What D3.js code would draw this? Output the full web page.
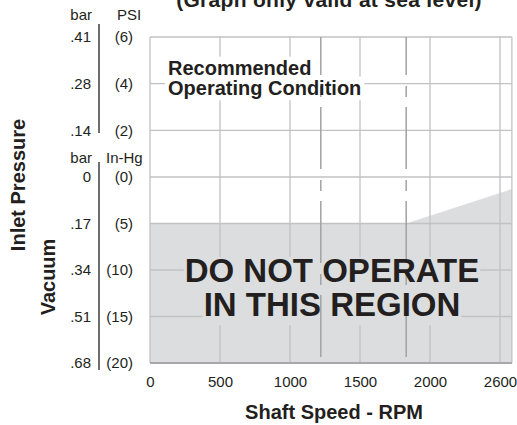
<!DOCTYPE html>
<html>
<head>
<meta charset="utf-8">
<script src="https://cdn.jsdelivr.net/npm/d3@7/dist/d3.min.js"></script>
<style>
  html, body { margin: 0; padding: 0; background: #fff; }
  svg { display: block; font-family: "Liberation Sans", Arial, Helvetica, sans-serif; }
</style>
</head>
<body>
<svg id="chart" width="517" height="425"></svg>
<script>
// Shaft speed axis (RPM)
const rpmTicks = [0, 500, 1000, 1500, 2000, 2500];
const rpmTickLabels = ["0", "500", "1000", "1500", "2000", "2600"];
const rpmMax = 2585;

// Positive inlet pressure (PSI) with bar equivalents
const psiTicks = [6, 4, 2];
const psiBar = [".41", ".28", ".14"];
const psiLabels = ["(6)", "(4)", "(2)"];

// Inlet vacuum (In-Hg) with bar equivalents
const vacTicks = [0, 5, 10, 15, 20];
const vacBar = ["0", ".17", ".34", ".51", ".68"];
const vacLabels = ["(0)", "(5)", "(10)", "(15)", "(20)"];

// Speed limits shown as dashed verticals (RPM)
const limitRpm = [1220, 1830];

// Upper edge of the no-operate region: vacuum (In-Hg) against speed
const boundaryRpm = [0, 1830, 2585];
const boundaryInHg = [5, 5, 1.3];

const ink = "#231f20";
const gridColor = "#c2c2c4";
const shade = "#dcdddf";

const plotLeft = 150, plotTop = 37, plotBottom = 363;
const x = d3.scaleLinear().domain([0, rpmMax]).range([plotLeft, plotLeft + rpmMax * 0.14]);
const plotRight = x(rpmMax);
const yPsi = d3.scaleLinear().domain([0, 6]).range([177, plotTop]);
const yVac = d3.scaleLinear().domain([0, 20]).range([177, plotBottom]);

const svg = d3.select("#chart");
const layerRegion = svg.append("g").attr("class", "region");
const layerGrid = svg.append("g").attr("class", "grid");
const layerMask = svg.append("g").attr("class", "mask");
const layerDash = svg.append("g").attr("class", "limits");
const layerText = svg.append("g").attr("class", "labels");

// No-operate region
const boundary = boundaryRpm.map((r, i) => ({ rpm: r, inHg: boundaryInHg[i] }));
layerRegion.append("path")
  .datum(boundary)
  .attr("fill", shade)
  .attr("d", d3.area().x(d => x(d.rpm)).y0(yVac(20)).y1(d => yVac(d.inHg)));

// Grid: speed verticals and pressure rows
const vx = rpmTicks.concat([rpmMax]).map(d => x(d));
const rowYs = psiTicks.map(d => yPsi(d)).concat(vacTicks.map(d => yVac(d)));
vx.forEach(px => {
  layerGrid.append("line")
    .attr("x1", px).attr("x2", px)
    .attr("y1", plotTop).attr("y2", plotBottom)
    .attr("stroke", gridColor).attr("stroke-width", 1.3);
});
rowYs.forEach(py => {
  layerGrid.append("line")
    .attr("x1", plotLeft).attr("x2", plotRight)
    .attr("y1", py).attr("y2", py)
    .attr("stroke", gridColor).attr("stroke-width", 1.3);
});
layerGrid.append("line")
  .attr("x1", plotLeft).attr("x2", plotRight)
  .attr("y1", yVac(20)).attr("y2", yVac(20))
  .attr("stroke", "#a8a8aa").attr("stroke-width", 2);

// Text blocks with backgrounds that mask the grid
function textBlock(lines, opts) {
  lines.forEach((s, i) => {
    const base = opts.y + i * opts.lh;
    const t = layerText.append("text")
      .attr("x", opts.x).attr("y", base)
      .attr("text-anchor", opts.anchor)
      .attr("font-size", opts.fs).attr("font-weight", "bold")
      .attr("fill", ink).text(s);
    const b = t.node().getBBox();
    layerMask.append("rect")
      .attr("x", b.x - opts.pad).attr("width", b.width + 2 * opts.pad)
      .attr("y", base - opts.up * opts.fs)
      .attr("height", (opts.up + opts.down) * opts.fs)
      .attr("fill", opts.bg);
  });
}

textBlock(["Recommended", "Operating Condition"],
  { x: 168, y: 75, lh: 20, fs: 20, anchor: "start", pad: 3, up: 0.92, down: 0.26, bg: "#fff" });

textBlock(["DO NOT OPERATE", "IN THIS REGION"],
  { x: 332, y: 282, lh: 34, fs: 33, anchor: "middle", pad: 1, up: 0.76, down: 0.28, bg: shade });

// Dashed speed limits
limitRpm.forEach(r => {
  layerDash.append("line")
    .attr("x1", x(r)).attr("x2", x(r))
    .attr("y1", plotTop).attr("y2", 357)
    .attr("stroke", "#a2a2a4").attr("stroke-width", 1.5)
    .attr("stroke-dasharray", "62,11,11,10")
    .attr("stroke-dashoffset", 24);
});

// Bottom axis labels
const xAxis = d3.axisBottom(x)
  .tickValues(rpmTicks)
  .tickFormat((d, i) => rpmTickLabels[i])
  .tickSize(0).tickPadding(0);
const xg = layerText.append("g").attr("transform", `translate(0,${plotBottom})`).call(xAxis);
xg.attr("font-family", null).attr("font-size", null);
xg.select(".domain").remove();
xg.selectAll("text")
  .attr("y", 24).attr("dy", null)
  .attr("font-size", 15).attr("fill", ink);

// Left pressure / vacuum scale
[[24, 133], [162, 370]].forEach(seg => {
  layerText.append("line")
    .attr("x1", 99).attr("x2", 99)
    .attr("y1", seg[0]).attr("y2", seg[1])
    .attr("stroke", ink).attr("stroke-width", 1.3);
});

const lab = layerText.append("g").attr("font-size", 15).attr("fill", ink);
function column(ticks, texts, scale, xPos) {
  lab.append("g").selectAll("text").data(ticks).join("text")
    .attr("x", xPos).attr("y", d => scale(d))
    .attr("dy", "0.36em").attr("text-anchor", "end")
    .text((d, i) => texts[i]);
}
column(psiTicks, psiBar, yPsi, 91);
column(psiTicks, psiLabels, yPsi, 133);
column(vacTicks, vacBar, yVac, 91);
column(vacTicks, vacLabels, yVac, 133);

lab.append("text").attr("x", 92).attr("y", 20).attr("text-anchor", "end").text("bar");
lab.append("text").attr("x", 117).attr("y", 20).text("PSI");
lab.append("text").attr("x", 92).attr("y", 163).attr("text-anchor", "end").text("bar");
lab.append("text").attr("x", 106).attr("y", 163).text("In-Hg");

// Titles
const titles = layerText.append("g").attr("font-weight", "bold").attr("fill", ink).attr("text-anchor", "middle");
titles.append("text").attr("x", 329).attr("y", 7)
  .attr("font-size", 21).attr("letter-spacing", 0.3)
  .text("(Graph only valid at sea level)");
titles.append("text").attr("x", 334).attr("y", 419)
  .attr("font-size", 20).text("Shaft Speed - RPM");
titles.append("text").attr("transform", "translate(25,185) rotate(-90)")
  .attr("font-size", 20).text("Inlet Pressure");
titles.append("text").attr("transform", "translate(55,277) rotate(-90)")
  .attr("font-size", 20).text("Vacuum");
</script>
</body>
</html>
